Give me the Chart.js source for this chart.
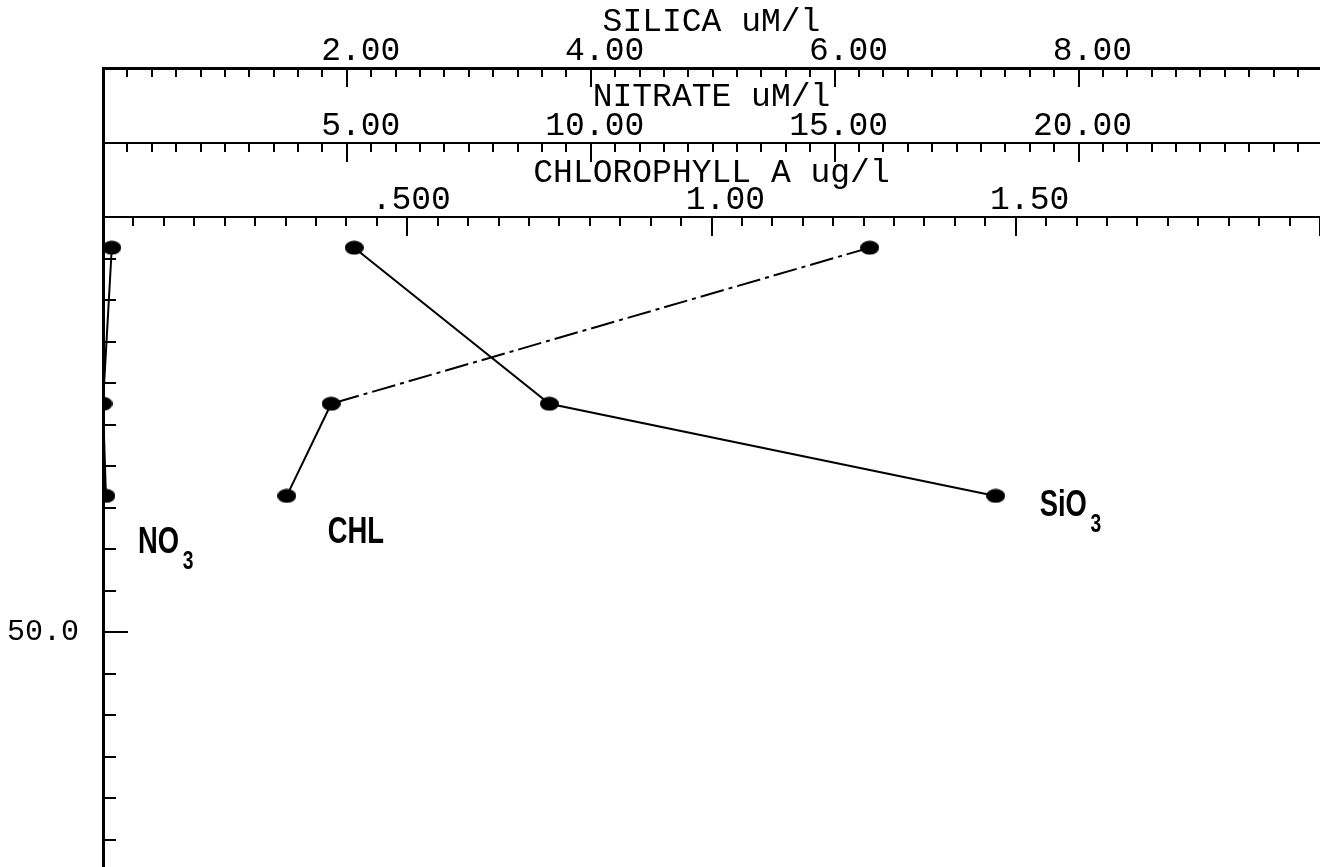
<!DOCTYPE html>
<html>
<head>
<meta charset="utf-8">
<title>Silica, nitrate and chlorophyll profile</title>
<script src="https://cdn.jsdelivr.net/npm/chart.js@4.4.1/dist/chart.umd.min.js"></script>
<style>
    html, body { margin: 0; padding: 0; background: #fff; overflow: hidden; }
    #wrap { width: 1320px; height: 867px; }
    canvas { display: block; }
</style>
</head>
<body>
<div id="wrap"><canvas id="profileChart" width="1320" height="867"></canvas></div>
<script>
// sample depths (m), shared by the three profiles
const depths = [3.7, 22.5, 33.6];
const silica = [2.06, 3.66, 7.32];        // uM/l
const nitrate = [0.18, 0.0, 0.06];        // uM/l
const chlorophyll = [1.26, 0.375, 0.302]; // ug/l

// labelled ticks of each axis
const silicaTicks = [2, 4, 6, 8];
const silicaTickLabels = [' 2.00', ' 4.00', ' 6.00', ' 8.00'];
const nitrateTicks = [5, 10, 15, 20];
const nitrateTickLabels = [' 5.00', '10.00', '15.00', '20.00'];
const chlTicks = [0.5, 1, 1.5];
const chlTickLabels = ['.500', ' 1.00', ' 1.50'];
const depthTicks = [50];
const depthTickLabels = ['50.0'];

const seriesNames = ['SiO', 'NO', 'CHL'];
const seriesSubs = ['3', '3', ''];

const monoFont = '"Liberation Mono", "DejaVu Sans Mono", monospace';

document.addEventListener('DOMContentLoaded', function() {
    const pts = xs => xs.map((x, i) => ({ x: x, y: depths[i] }));
    const labelFor = (ticks, labels, v) => {
        const i = ticks.findIndex(t => Math.abs(t - v) < 1e-9);
        return i < 0 ? '' : labels[i];
    };
    // no label overhang padding: the frame is fixed like the plotter sheet
    const noPadding = s => {
        s.paddingTop = 0;
        s.paddingBottom = 0;
        s.paddingLeft = 0;
        s.paddingRight = 0;
    };

    // flat filled blob used as the plotter marker
    const marker = document.createElement('canvas');
    marker.width = 19;
    marker.height = 15;
    const mctx = marker.getContext('2d');
    mctx.fillStyle = '#000';
    mctx.beginPath();
    mctx.ellipse(9.5, 7.5, 9.5, 7, 0, 0, Math.PI * 2);
    mctx.fill();

    const topAxis = cfg => ({
        type: 'linear',
        position: 'top',
        weight: cfg.weight,
        min: cfg.min,
        max: cfg.max,
        afterFit: s => { s.height = cfg.height; noPadding(s); },
        grid: { display: true, drawOnChartArea: false, drawTicks: false },
        border: { display: true, color: '#000', width: cfg.lineWidth },
        ticks: {
            stepSize: cfg.step,
            autoSkip: false,
            maxRotation: 0,
            padding: 0,
            labelOffset: 4,
            color: '#000',
            font: { family: monoFont, size: 33, lineHeight: 1 },
            callback: v => labelFor(cfg.ticks, cfg.labels, v)
        },
        title: {
            display: true,
            text: cfg.title,
            color: '#000',
            font: { family: monoFont, size: 33, lineHeight: 1 },
            padding: { top: cfg.titlePad, bottom: 0 }
        }
    });

    // tick marks hang inside each axis line, as on the plotter sheet
    const tickMarks = [
        { id: 'xSi', minor: 0.2, major: 2 },
        { id: 'xNo', minor: 0.5, major: 5 },
        { id: 'xChl', minor: 0.05, major: 0.5 }
    ];

    const plotterDecor = {
        id: 'plotterDecor',
        afterDraw(chart) {
            const { ctx, chartArea, scales } = chart;
            ctx.save();
            ctx.strokeStyle = '#000';
            ctx.lineWidth = 2;
            ctx.beginPath();
            tickMarks.forEach(t => {
                const s = scales[t.id];
                const n = Math.floor((s.max - s.min) / t.minor + 1e-6);
                for (let i = 1; i <= n; i++) {
                    const v = s.min + i * t.minor;
                    const isMajor = Math.abs(v / t.major - Math.round(v / t.major)) < 1e-6;
                    const x = Math.round(s.getPixelForValue(v));
                    ctx.moveTo(x, s.bottom);
                    ctx.lineTo(x, s.bottom + (isMajor ? 19 : 9));
                }
            });
            const ys = scales.y;
            for (let v = 5; v <= ys.max; v += 5) {
                const y = Math.round(ys.getPixelForValue(v));
                ctx.moveTo(chartArea.left, y);
                ctx.lineTo(chartArea.left + (v % 50 === 0 ? 25 : 13), y);
            }
            ctx.stroke();

            // left frame line runs up to the silica axis
            ctx.lineWidth = 3;
            ctx.beginPath();
            ctx.moveTo(chartArea.left + 0.5, scales.xSi.bottom - 1);
            ctx.lineTo(chartArea.left + 0.5, chartArea.top);
            ctx.stroke();

            // series names next to the deepest sample
            const offsets = [[44, 20], [32, 57], [41, 47]];
            ctx.fillStyle = '#000';
            ctx.textBaseline = 'alphabetic';
            ctx.textAlign = 'left';
            seriesNames.forEach((name, i) => {
                const meta = chart.getDatasetMeta(i);
                const last = meta.data[meta.data.length - 1];
                ctx.save();
                ctx.translate(last.x + offsets[i][0], last.y + offsets[i][1]);
                ctx.scale(0.74, 1);
                ctx.font = 'bold 37px "Liberation Sans Narrow", "Liberation Sans", sans-serif';
                ctx.fillText(name, 0, 0);
                const w = ctx.measureText(name).width;
                if (seriesSubs[i]) {
                    ctx.font = 'bold 26px "Liberation Sans Narrow", "Liberation Sans", sans-serif';
                    ctx.fillText(seriesSubs[i], w + 5, 16);
                }
                ctx.restore();
            });
            ctx.restore();
        }
    };

    const lineSet = (label, values, axis) => ({
        label: label,
        data: pts(values),
        xAxisID: axis,
        yAxisID: 'y',
        showLine: true,
        borderColor: '#000',
        backgroundColor: '#000',
        borderWidth: 2,
        pointStyle: marker,
        pointRadius: 9,
        clip: { left: 0, top: 12, right: 12, bottom: 0 }
    });

    const chlSet = lineSet('CHL', chlorophyll, 'xChl');
    chlSet.segment = { borderDash: c => c.p0DataIndex === 0 ? [24, 5, 4, 5] : [] };

    new Chart(document.getElementById('profileChart').getContext('2d'), {
        type: 'scatter',
        data: {
            datasets: [
                lineSet('SiO3', silica, 'xSi'),
                lineSet('NO3', nitrate, 'xNo'),
                chlSet
            ]
        },
        options: {
            responsive: false,
            animation: false,
            events: [],
            layout: { padding: 0, autoPadding: false },
            plugins: { legend: { display: false }, tooltip: { enabled: false } },
            scales: {
                y: {
                    type: 'linear',
                    position: 'left',
                    reverse: true,
                    min: 0,
                    max: 78.3,
                    afterFit: s => { s.width = 103; noPadding(s); },
                    grid: { display: true, drawOnChartArea: false, drawTicks: false },
                    border: { display: true, color: '#000', width: 3 },
                    ticks: {
                        stepSize: 5,
                        autoSkip: false,
                        padding: 24,
                        color: '#000',
                        font: { family: monoFont, size: 30, lineHeight: 1 },
                        callback: v => labelFor(depthTicks, depthTickLabels, v)
                    }
                },
                xChl: topAxis({ weight: 1, min: 0, max: 2.0, step: 0.5, ticks: chlTicks, labels: chlTickLabels,
                    title: 'CHLOROPHYLL A ug/l', height: 74, titlePad: 14, lineWidth: 2 }),
                xNo: topAxis({ weight: 2, min: 0, max: 24.95, step: 5, ticks: nitrateTicks, labels: nitrateTickLabels,
                    title: 'NITRATE uM/l', height: 75, titlePad: 13, lineWidth: 2 }),
                xSi: topAxis({ weight: 3, min: 0, max: 9.98, step: 2, ticks: silicaTicks, labels: silicaTickLabels,
                    title: 'SILICA uM/l', height: 68, titlePad: 6, lineWidth: 3 })
            }
        },
        plugins: [plotterDecor]
    });
});
</script>
</body>
</html>
